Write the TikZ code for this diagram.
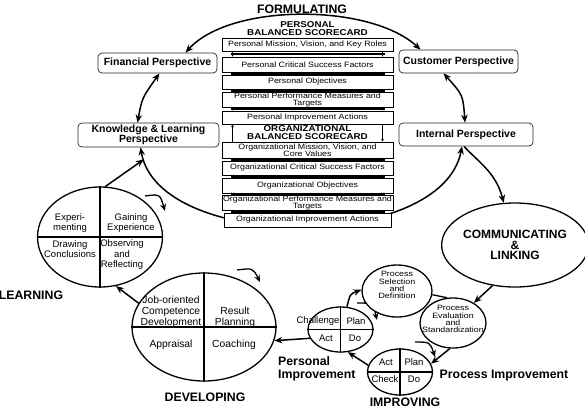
\documentclass[tikz,border=0pt]{standalone}
\usepackage{fontspec}
\setmainfont{Liberation Sans}
\newfontfamily\widefont{Liberation Sans}[FakeStretch=1.15]
\usetikzlibrary{arrows.meta, positioning, shapes.geometric, calc}
\pgfdeclarelayer{background}
\pgfsetlayers{background,main}

\begin{document}
\begin{tikzpicture}[x=1pt, y=-1pt,
    persp/.style={draw=black!85, line width=0.7pt, rounded corners=4pt,
      fill=white, align=center, inner sep=1pt,
      font=\bfseries\fontsize{10.5}{10}\selectfont},
    card/.style={draw, line width=0.6pt, fill=white, minimum width=171pt,
      inner sep=0pt, align=center, font=\widefont\fontsize{7.7}{7.3}\selectfont},
    cardhead/.style={inner sep=0pt, align=center,
      font=\widefont\bfseries\fontsize{8.5}{7.2}\selectfont},
    wheel/.style={draw, ellipse, line width=1.3pt, fill=white, inner sep=0pt},
    quarter/.style={line width=1.3pt},
    learntext/.style={inner sep=0pt, align=center, font=\fontsize{9.5}{10.5}\selectfont},
    devtext/.style={inner sep=0pt, align=center, font=\fontsize{10.3}{10.8}\selectfont},
    pdcatext/.style={inner sep=0pt, align=center, font=\fontsize{9.5}{10}\selectfont},
    proctext/.style={inner sep=0pt, align=center, font=\widefont\fontsize{7.7}{7.1}\selectfont},
    stage/.style={inner sep=0pt, align=center, font=\bfseries\fontsize{12.3}{13}\selectfont},
    arrow/.style={-{Stealth[length=8pt, width=6.5pt]}, line width=1.5pt},
    twoway/.style={{Stealth[length=8pt, width=6.5pt]}-{Stealth[length=8pt, width=6.5pt]},
      line width=1.5pt},
    spin/.style={-{Stealth[length=7pt, width=6pt]}, line width=1.3pt},
    scorebar/.style={line width=2.4pt},
    flow/.style={-{Stealth[length=3pt, width=3pt]}, line width=0.7pt},
]
\useasboundingbox (0,0) rectangle (585,408);
% Nodes
\node[stage] (formulating) at (302,9) {FORMULATING};
\node[persp, minimum width=119pt, minimum height=20pt] (financial) at (157.5,63)
    {Financial Perspective};
\node[persp, minimum width=119pt, minimum height=23pt] (customer) at (458.5,61.5)
    {Customer Perspective};
\node[persp, minimum width=141pt, minimum height=24pt] (knowledge) at (148.5,135)
    {Knowledge \& Learning\\Perspective};
\node[persp, minimum width=134pt, minimum height=23pt] (internal) at (466,134.5)
    {Internal Perspective};
% personal and organizational scorecards
\node[cardhead] (pbsc) at (307.5,28.5) {PERSONAL\\BALANCED SCORECARD};
\node[card, minimum height=13pt] (p1) at (307.5,44.5) {Personal Mission, Vision, and Key Roles};
\node[card, minimum height=15pt] (p2) at (307.5,64.5) {Personal Critical Success Factors};
\node[card, minimum height=14pt] (p3) at (307.5,82) {Personal Objectives};
\node[card, minimum height=14pt] (p4) at (307.5,100) {Personal Performance Measures and\\Targets};
\node[card, minimum height=13pt] (p5) at (307.5,117.5) {Personal Improvement Actions};
\node[cardhead] (obsc) at (307.5,132.5) {ORGANIZATIONAL\\BALANCED SCORECARD};
\node[card, minimum height=16pt] (o1) at (307.5,150) {Organizational Mission, Vision, and\\Core Values};
\node[card, minimum height=14pt] (o2) at (307.5,168) {Organizational Critical Success Factors};
\node[card, minimum height=15pt] (o3) at (307.5,185.5) {Organizational Objectives};
\node[card, minimum height=14pt] (o4) at (307.5,203) {Organizational Performance Measures and\\Targets};
\node[card, minimum height=14pt, minimum width=167pt] (o5) at (307.5,220)
    {Organizational Improvement Actions};
\foreach \a/\b in {p1/p2, p2/p3, p3/p4, p4/p5, o1/o2, o2/o3, o3/o4, o4/o5} {
  \draw[scorebar] ($(\a.south)!0.5!(\b.north)+(-77,0)$) -- ($(\a.south)!0.5!(\b.north)+(77,0)$);
  \draw[flow] ($(\a.south)+(-75,0)$) -- ($(\b.north)+(-75,0)$);
  \draw[flow] ($(\a.south)+(75,0)$) -- ($(\b.north)+(75,0)$);
}
\draw[flow] ($(o1.north)+(-75,0)$) -- ($(p5.south)+(-75,0)$);
\draw[flow] ($(p5.south)+(75,0)$) -- ($(o1.north)+(75,0)$);
% learning cycle
\node[wheel, minimum width=125pt, minimum height=100pt] (learning) at (100,237) {};
\draw[quarter] (learning.north) -- (learning.south) (learning.west) -- (learning.east);
\node[learntext] (experimenting) at (70,223) {Experi-\\menting};
\node[learntext] (gaining) at (131,223) {Gaining\\Experience};
\node[learntext] (drawing) at (70,249) {Drawing\\Conclusions};
\node[learntext] (observing) at (122,255) {Observing\\and\\Reflecting};
\node[stage] (learnlabel) at (31,295) {LEARNING};
% developing cycle
\node[wheel, minimum width=144pt, minimum height=108pt] (developing) at (204,327) {};
\draw[quarter] (developing.north) -- (developing.south)
    (developing.west) -- (developing.east);
\node[devtext] (joboriented) at (171,312) {Job-oriented\\Competence\\Development};
\node[devtext] (result) at (235,317) {Result\\Planning};
\node[devtext] (appraisal) at (171,345) {Appraisal};
\node[devtext] (coaching) at (234,345) {Coaching};
\node[stage] (devlabel) at (205,397) {DEVELOPING};
% communicating and improving
\node[wheel, minimum width=130pt, minimum height=84pt,
      font=\bfseries\fontsize{12}{10.5}\selectfont, align=center] (communicating)
    at (515,245) {COMMUNICATING\\\&\\LINKING};
\node[wheel, minimum width=70pt, minimum height=52pt] (selection) at (397,291) {};
\node[proctext] (selectiontext) at (397,285) {Process\\Selection\\and\\Definition};
\node[wheel, minimum width=66pt, minimum height=50pt] (evaluation) at (453,323) {};
\node[proctext] (evaluationtext) at (453,319) {Process\\Evaluation\\and\\Standardization};
\node[wheel, minimum width=65pt, minimum height=45pt] (personal) at (340.5,329.5) {};
\draw[quarter] (personal.north) -- (personal.south) (personal.west) -- (personal.east);
\node[pdcatext] (challenge) at (318,321) {Challenge};
\node[pdcatext] (pplan) at (356,321) {Plan};
\node[pdcatext] (pact) at (326,338) {Act};
\node[pdcatext] (pdo) at (355,338) {Do};
\node[wheel, minimum width=65pt, minimum height=46pt] (procimp) at (400,372) {};
\draw[quarter] (procimp.north) -- (procimp.south) (procimp.west) -- (procimp.east);
\node[pdcatext] (iact) at (386,362) {Act};
\node[pdcatext] (iplan) at (414,362) {Plan};
\node[pdcatext] (icheck) at (385,379) {Check};
\node[pdcatext] (ido) at (414,379) {Do};
\node[stage, anchor=west, align=left] (perslabel) at (278,368.5) {Personal\\Improvement};
\node[stage] (proclabel) at (504,376) {Process Improvement};
\node[stage] (implabel) at (405,402.5) {IMPROVING};
% Arrows
\begin{pgfonlayer}{background}
\draw[twoway] ([xshift=28pt]financial.north) .. controls (230,3) and (370,3)
    .. ([xshift=-38pt]customer.north);
\draw[twoway] ([xshift=2pt]financial.south) .. controls (142,98)
    .. ([xshift=-11pt]knowledge.north);
\draw[twoway] ([xshift=-15pt]customer.south) .. controls (463,95)
    .. ([xshift=-1pt]internal.north);
\draw[twoway] ([xshift=-8pt]knowledge.south) .. controls (158,252) and (442,252)
    .. ([xshift=-4pt]internal.south) coordinate[pos=0.04] (klj);
\draw[arrow] ([xshift=-2pt]internal.south) .. controls (476,160) and (496,172)
    .. (communicating.105);
\draw[arrow] (learning.84) -- (klj);
\draw[arrow] (communicating.241) -- (evaluation.44);
\draw[line width=1.3pt] (selection.-6) -- (evaluation.103);
\draw[arrow] (evaluation.263) -- (procimp.15);
\draw[arrow] (procimp.168) -- (personal.-72);
\draw[arrow] (personal.74) .. controls (350,294) .. (selection.178);
\draw[arrow] (personal.196) -- (developing.-11);
\draw[arrow] (developing.160) -- (learning.-72);
\draw[spin] ($(learning)+(45,-41)$) .. controls ($(learning)+(60,-43)$)
    .. ($(learning)+(65,-26)$);
\draw[spin] ($(developing)+(33,-57)$) .. controls ($(developing)+(49,-59)$)
    .. ($(developing)+(56,-45)$);
\draw[spin] ($(personal)+(16.5,-26.5)$) .. controls ($(personal)+(32.5,-26.5)$)
    .. ($(personal)+(36.5,-9.5)$);
\draw[spin] ($(procimp)+(15,-30)$) .. controls ($(procimp)+(30,-30)$)
    .. ($(procimp)+(35,-15)$);
\end{pgfonlayer}
\end{tikzpicture}
\end{document}
